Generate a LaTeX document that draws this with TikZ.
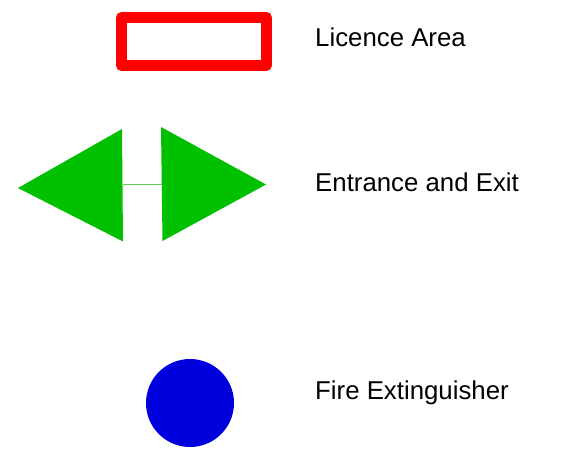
\documentclass[tikz,border=0pt]{standalone}
\usepackage{fontspec}
\setmainfont{Liberation Sans}
\definecolor{licred}{RGB}{255,0,0}
\definecolor{exitgreen}{RGB}{0,192,0}
\definecolor{linkgreen}{RGB}{90,210,90}
\definecolor{extblue}{RGB}{0,0,221}
\tikzset{
  label text/.style={anchor=base west, inner sep=0pt, font=\fontsize{25.8pt}{30pt}\selectfont, text=black},
  licbox/.style={draw=licred, line width=11pt, line join=round},
  arrowtri/.style={fill=exitgreen, draw=none},
  linkline/.style={draw=linkgreen, line width=1pt},
  extcircle/.style={fill=extblue, draw=none}
}
\begin{document}
\begin{tikzpicture}[x=1pt, y=-1pt]
  \useasboundingbox (0,0) rectangle (573,450);
  % Licence area
  \draw[licbox] (121.5,17.5) rectangle (266.5,65.5);
  \node[label text] (lic) at (315,46.7) {Licence Area};
  % Entrance and exit
  \coordinate (lt) at (18,188);
  \coordinate (ltop) at (122,129);
  \coordinate (lbot) at (123,241.5);
  \coordinate (rtop) at (161,127);
  \coordinate (rbot) at (162.5,241);
  \coordinate (rt) at (266,184.5);
  \fill[arrowtri] (lt) -- (ltop) -- (lbot) -- cycle;
  \fill[arrowtri] (rtop) -- (rt) -- (rbot) -- cycle;
  \coordinate (la) at (122.5,184.5);
  \coordinate (ra) at (161.5,184.5);
  \draw[linkline] (la) -- (ra);
  \node[label text] (ent) at (315,191.7) {Entrance and Exit};
  % Fire extinguisher
  \node[extcircle, circle, minimum size=88pt, inner sep=0pt] (ext) at (190,403) {};
  \node[label text] (fire) at (315,399.3) {Fire Extinguisher};
\end{tikzpicture}
\end{document}
